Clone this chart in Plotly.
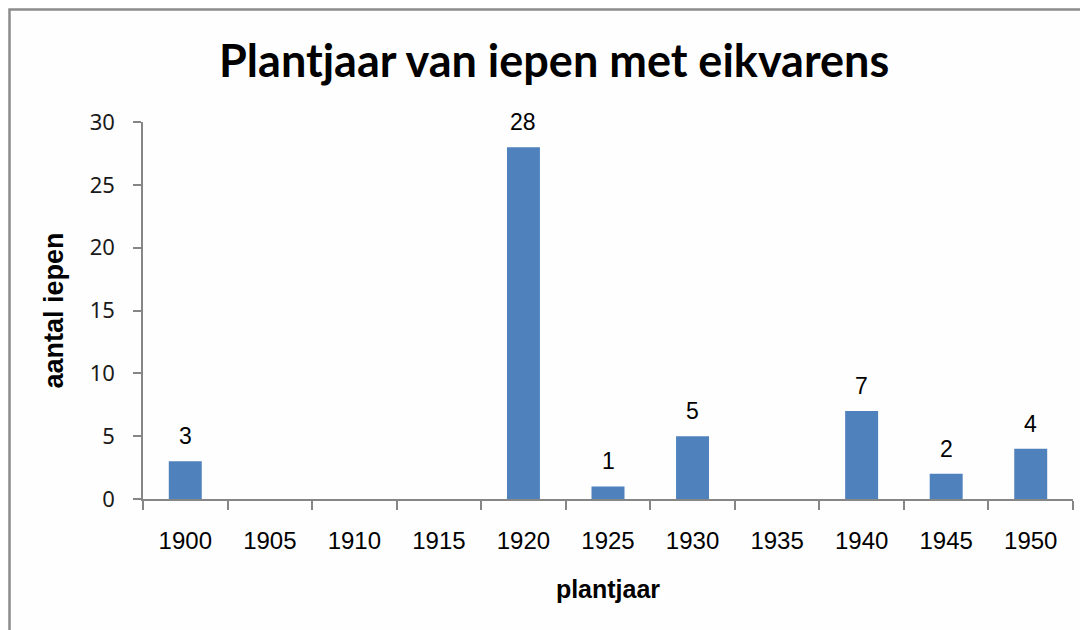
import plotly.graph_objects as go

years = ["1900", "1905", "1910", "1915", "1920", "1925", "1930", "1935", "1940", "1945", "1950"]
counts = [3, 0, 0, 0, 28, 1, 5, 0, 7, 2, 4]
y_ticks = [0, 5, 10, 15, 20, 25, 30]

title_text = "Plantjaar van iepen met eikvarens"
x_title = "plantjaar"
y_title = "aantal iepen"

bar_color = "#4F81BD"
axis_color = "#868686"

L, R, T, B = 135, 23, 114, 139
W, H = 1088, 630
pw, ph = W - L - R, H - T - B

fig = go.Figure()
fig.add_trace(go.Bar(
    x=years, y=counts,
    marker=dict(color=bar_color, line=dict(width=0)),
    hoverinfo="x+y",
))

annotations = []
for i, c in enumerate(counts):
    if c:
        annotations.append(dict(
            x=i, y=c, xref="x", yref="y", text=str(c), showarrow=False,
            yanchor="bottom", yshift=10,
            font=dict(family="Liberation Sans, Arial", size=23, color="#000000"),
        ))

fig.update_layout(
    width=W, height=H,
    paper_bgcolor="#FEFEFE", plot_bgcolor="#FEFEFE",
    margin=dict(l=L, r=R, t=T, b=B),
    bargap=0.61,
    showlegend=False,
    title=dict(
        text=title_text, x=0.502, xanchor="center", y=0.915, yanchor="middle",
        font=dict(family="Lato, Noto Sans, sans-serif", size=45, color="#000000", weight="bold"),
    ),
    annotations=annotations,
    shapes=[dict(type="rect", xref="paper", yref="paper",
                 x0=(1.5 - L) / pw, x1=1.1, y0=-0.5, y1=(H - B - 1.5) / ph,
                 line=dict(color="#8C8C8C", width=2.5), layer="below")],
)

fig.update_xaxes(
    type="category", range=[-0.5, len(years) - 0.5], autorange=False,
    showline=True, linecolor=axis_color, linewidth=1.5,
    ticks="outside", ticklen=9, tickcolor=axis_color, tickwidth=1.5,
    tickson="boundaries",
    showgrid=False,
    tickfont=dict(family="Liberation Sans, Arial", size=24, color="#000000"),
    ticklabelstandoff=19,
    title=dict(text=x_title, standoff=28,
               font=dict(family="Liberation Sans, Arial", size=25, color="#000000", weight="bold")),
)
fig.update_yaxes(
    range=[0, 30], autorange=False, tickvals=y_ticks,
    showline=True, linecolor=axis_color, linewidth=1.5,
    ticks="outside", ticklen=8, tickcolor=axis_color, tickwidth=1.5,
    showgrid=False, zeroline=False,
    tickfont=dict(family="Noto Sans, sans-serif", size=22, color="#1a1a1a"),
    ticklabelstandoff=14,
    title=dict(text=y_title, standoff=18,
               font=dict(family="Liberation Sans, Arial", size=27, color="#000000", weight="bold")),
)

fig.write_html("out.html")
